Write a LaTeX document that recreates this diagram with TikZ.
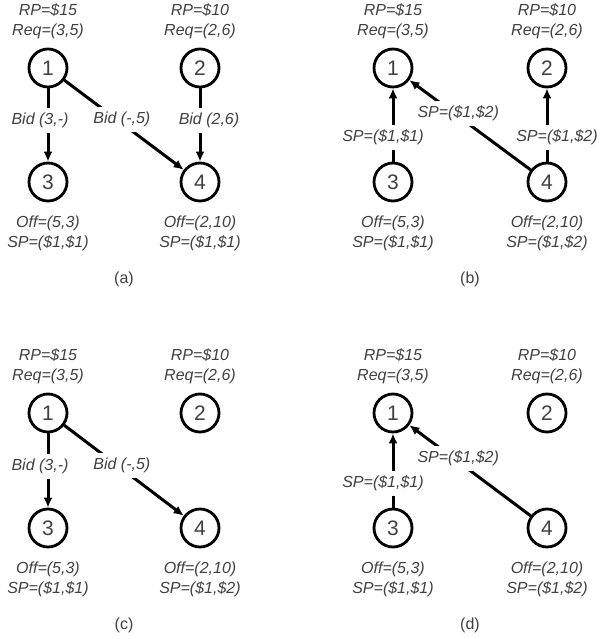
\documentclass[tikz,border=0pt]{standalone}
\usepackage{fontspec}
\setmainfont{Liberation Sans}
\usetikzlibrary{arrows.meta,positioning}
\definecolor{txtgray}{RGB}{64,64,64}

\begin{document}
\begin{tikzpicture}[x=1pt,y=-1pt]
\tikzstyle{every node}+=[inner sep=0pt]
\tikzstyle{agent}=[draw=black,circle,line width=2.8pt,minimum size=38pt,text=txtgray,font=\fontsize{21}{24}\selectfont]
\tikzstyle{info}=[align=center,text=txtgray,font=\fontsize{16}{20}\selectfont\itshape]
\tikzstyle{lbl}=[fill=white,inner xsep=3pt,inner ysep=5pt,text=txtgray,font=\fontsize{16}{20}\selectfont\itshape]
\tikzstyle{caption}=[text=txtgray,font=\fontsize{16}{20}\selectfont]
\tikzstyle{edge}=[line width=3pt,-{Latex[length=10pt,width=9pt]}]
\useasboundingbox (0,0) rectangle (599,639);
% (a)
\node [agent] (a1) at (48,68) {1};
\node [agent] (a2) at (200,68) {2};
\node [agent] (a3) at (48,182) {3};
\node [agent] (a4) at (200,182) {4};
\node [info] (a1i) at (48,21) {RP=\$15\\Req=(3,5)};
\node [info] (a2i) at (200,21) {RP=\$10\\Req=(2,6)};
\node [info] (a3i) at (48,233) {Off=(5,3)\\SP=(\$1,\$1)};
\node [info] (a4i) at (200,233) {Off=(2,10)\\SP=(\$1,\$1)};
\draw [edge] (a1) -- node [lbl,pos=.44,xshift=-8] {Bid (3,-)} (a3);
\draw [edge] (a1) -- node [lbl,pos=.44,xshift=5] {Bid (-,5)} (a4);
\draw [edge] (a2) -- node [lbl,pos=.44,xshift=9] {Bid (2,6)} (a4);
\node [caption] (acap) at (124,279) {(a)};
% (b)
\node [agent] (b1) at (393,68) {1};
\node [agent] (b2) at (547,68) {2};
\node [agent] (b3) at (393,182) {3};
\node [agent] (b4) at (547,182) {4};
\node [info] (b1i) at (393,21) {RP=\$15\\Req=(3,5)};
\node [info] (b2i) at (547,21) {RP=\$10\\Req=(2,6)};
\node [info] (b3i) at (393,233) {Off=(5,3)\\SP=(\$1,\$1)};
\node [info] (b4i) at (547,233) {Off=(2,10)\\SP=(\$1,\$2)};
\draw [edge] (b3) -- node [lbl,pos=.33,xshift=-10] {SP=(\$1,\$1)} (b1);
\draw [edge] (b4) -- node [lbl,pos=.63,xshift=4] {SP=(\$1,\$2)} (b1);
\draw [edge] (b4) -- node [lbl,pos=.33,xshift=10] {SP=(\$1,\$2)} (b2);
\node [caption] (bcap) at (470,279) {(b)};
% (c)
\node [agent] (c1) at (48,413) {1};
\node [agent] (c2) at (200,413) {2};
\node [agent] (c3) at (48,528) {3};
\node [agent] (c4) at (200,528) {4};
\node [info] (c1i) at (48,366) {RP=\$15\\Req=(3,5)};
\node [info] (c2i) at (200,366) {RP=\$10\\Req=(2,6)};
\node [info] (c3i) at (48,579) {Off=(5,3)\\SP=(\$1,\$1)};
\node [info] (c4i) at (200,579) {Off=(2,10)\\SP=(\$1,\$2)};
\draw [edge] (c1) -- node [lbl,pos=.44,xshift=-8] {Bid (3,-)} (c3);
\draw [edge] (c1) -- node [lbl,pos=.44,xshift=5] {Bid (-,5)} (c4);
\node [caption] (ccap) at (124,625) {(c)};
% (d)
\node [agent] (d1) at (393,413) {1};
\node [agent] (d2) at (547,413) {2};
\node [agent] (d3) at (393,528) {3};
\node [agent] (d4) at (547,528) {4};
\node [info] (d1i) at (393,366) {RP=\$15\\Req=(3,5)};
\node [info] (d2i) at (547,366) {RP=\$10\\Req=(2,6)};
\node [info] (d3i) at (393,579) {Off=(5,3)\\SP=(\$1,\$1)};
\node [info] (d4i) at (547,579) {Off=(2,10)\\SP=(\$1,\$2)};
\draw [edge] (d3) -- node [lbl,pos=.33,xshift=-10] {SP=(\$1,\$1)} (d1);
\draw [edge] (d4) -- node [lbl,pos=.63,xshift=4] {SP=(\$1,\$2)} (d1);
\node [caption] (dcap) at (470,625) {(d)};
\end{tikzpicture}
\end{document}
